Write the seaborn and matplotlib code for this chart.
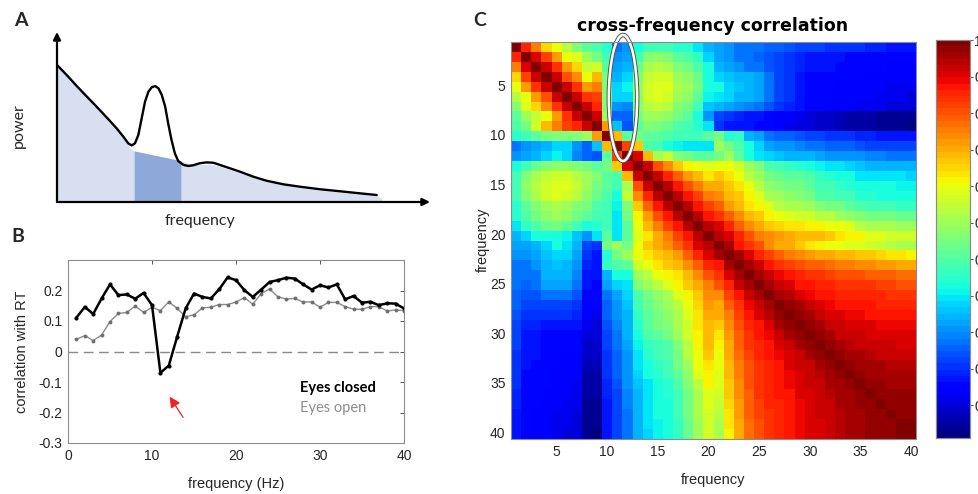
import numpy as np
import pandas as pd
import matplotlib
matplotlib.use("Agg")
import matplotlib.pyplot as plt
from matplotlib.patches import Ellipse
import seaborn as sns

# ---------------- panel A : schematic spectrum (axis units 0..1) ----------------
spec_x = [0.0, 0.026, 0.053, 0.080, 0.106, 0.133, 0.160, 0.178, 0.191, 0.200, 0.209,
          0.218, 0.227, 0.236, 0.245, 0.254, 0.263, 0.272, 0.281, 0.290, 0.298, 0.307,
          0.316, 0.325, 0.339, 0.352, 0.365, 0.383, 0.401, 0.419, 0.437, 0.464, 0.491,
          0.526, 0.562, 0.607, 0.651, 0.705, 0.759, 0.812, 0.857]
spec_pow = [0.806, 0.747, 0.682, 0.620, 0.561, 0.498, 0.433, 0.384, 0.345, 0.333, 0.345,
            0.394, 0.492, 0.590, 0.649, 0.675, 0.682, 0.669, 0.629, 0.561, 0.463, 0.365,
            0.286, 0.241, 0.218, 0.212, 0.216, 0.228, 0.233, 0.231, 0.218, 0.198, 0.178,
            0.149, 0.125, 0.104, 0.090, 0.075, 0.063, 0.051, 0.041]
bg_x = [0.0, 0.026, 0.053, 0.080, 0.106, 0.133, 0.160, 0.178, 0.196, 0.207, 0.332,
        0.357, 0.383, 0.410, 0.437, 0.491, 0.562, 0.651, 0.759, 0.857, 0.868, 0.874]
bg_pow = [0.806, 0.745, 0.680, 0.618, 0.558, 0.495, 0.430, 0.375, 0.318, 0.300, 0.243,
          0.222, 0.220, 0.223, 0.210, 0.170, 0.120, 0.084, 0.057, 0.036, 0.026, 0.0]
band_x = [0.207, 0.332]
band_pow = [0.300, 0.243]

# ---------------- panel B : correlation with RT ----------------
freq_hz = list(range(1, 41))
r_closed = [0.111, 0.146, 0.123, 0.174, 0.220, 0.185, 0.187, 0.173, 0.192, 0.152,
            -0.070, -0.046, 0.049, 0.141, 0.190, 0.179, 0.174, 0.204, 0.243, 0.234,
            0.201, 0.179, 0.203, 0.228, 0.234, 0.242, 0.239, 0.220, 0.203, 0.217,
            0.210, 0.220, 0.171, 0.182, 0.160, 0.163, 0.152, 0.158, 0.157, 0.141]
r_open = [0.040, 0.052, 0.036, 0.054, 0.098, 0.125, 0.128, 0.149, 0.128, 0.145,
          0.134, 0.163, 0.141, 0.114, 0.120, 0.143, 0.145, 0.154, 0.154, 0.162,
          0.177, 0.155, 0.190, 0.205, 0.179, 0.172, 0.174, 0.162, 0.163, 0.145,
          0.161, 0.161, 0.147, 0.139, 0.138, 0.147, 0.147, 0.133, 0.136, 0.134]

# ---------------- panel C : cross-frequency correlation (percent, lower triangle) ----------------
corr_lower = [
    [100],
    [86, 100],
    [76, 91, 100],
    [65, 82, 92, 100],
    [60, 72, 83, 92, 100],
    [53, 60, 72, 81, 92, 100],
    [47, 58, 65, 73, 84, 93, 100],
    [42, 50, 55, 60, 72, 84, 92, 100],
    [40, 45, 56, 68, 76, 82, 86, 92, 100],
    [35, 37, 42, 45, 46, 47, 46, 50, 72, 100],
    [17, 20, 22, 25, 28, 27, 20, 15, 26, 68, 100],
    [20, 22, 25, 27, 31, 28, 19, 15, 14, 42, 82, 100],
    [33, 38, 43, 46, 48, 48, 47, 44, 42, 44, 66, 90, 100],
    [37, 46, 51, 55, 57, 56, 54, 50, 46, 42, 40, 68, 92, 100],
    [38, 48, 53, 57, 58, 58, 55, 50, 45, 42, 37, 52, 80, 93, 100],
    [37, 46, 52, 56, 58, 57, 54, 48, 43, 40, 32, 55, 73, 86, 94, 100],
    [35, 42, 47, 50, 52, 50, 47, 44, 40, 38, 31, 47, 66, 78, 88, 94, 100],
    [34, 40, 45, 48, 50, 48, 45, 42, 38, 38, 30, 44, 62, 72, 81, 88, 94, 100],
    [30, 36, 40, 43, 45, 42, 38, 32, 34, 38, 29, 42, 60, 68, 75, 82, 88, 94, 100],
    [25, 28, 32, 33, 33, 31, 26, 20, 29, 42, 30, 42, 58, 64, 70, 75, 82, 88, 94, 100],
    [22, 23, 24, 28, 32, 30, 24, 12, 10, 45, 50, 45, 60, 66, 70, 74, 78, 84, 90, 94, 100],
    [20, 20, 22, 26, 27, 27, 22, 10, 8, 34, 44, 50, 60, 64, 66, 68, 72, 79, 85, 90, 95, 100],
    [18, 18, 20, 25, 26, 25, 20, 9, 8, 36, 40, 42, 56, 60, 64, 66, 68, 73, 79, 85, 87, 95, 100],
    [18, 17, 18, 24, 25, 24, 19, 8, 7, 24, 33, 33, 50, 54, 60, 62, 64, 68, 74, 80, 84, 91, 96, 100],
    [17, 16, 17, 22, 23, 22, 18, 8, 6, 22, 27, 30, 46, 50, 54, 58, 62, 66, 70, 76, 80, 86, 92, 96, 100],
    [16, 14, 14, 18, 18, 17, 14, 6, 5, 17, 22, 27, 40, 45, 48, 52, 58, 62, 66, 73, 74, 82, 88, 93, 96, 100],
    [15, 12, 12, 12, 12, 12, 11, 4, 4, 16, 21, 26, 38, 43, 46, 50, 54, 60, 65, 72, 71, 78, 84, 89, 93, 96, 100],
    [14, 10, 10, 10, 10, 10, 9, 3, 2, 15, 20, 25, 36, 42, 45, 48, 52, 59, 64, 71, 70, 76, 82, 87, 91, 94, 97, 100],
    [13, 9, 9, 8, 8, 8, 7, 2, 1, 14, 19, 24, 34, 41, 44, 46, 52, 56, 64, 69, 66, 74, 80, 85, 88, 91, 95, 97, 100],
    [12, 8, 8, 6, 6, 6, 6, 0, 0, 13, 18, 24, 33, 40, 42, 44, 50, 56, 62, 68, 64, 72, 79, 84, 87, 89, 92, 95, 97, 100],
    [12, 8, 7, 6, 5, 5, 5, -1, -1, 12, 17, 22, 31, 36, 38, 40, 46, 54, 61, 68, 62, 71, 78, 83, 86, 88, 90, 92, 95, 97, 100],
    [11, 7, 7, 6, 5, 4, 4, -2, -2, 11, 16, 21, 30, 34, 37, 39, 45, 54, 60, 66, 60, 70, 77, 82, 85, 87, 89, 91, 93, 95, 97, 100],
    [11, 7, 6, 5, 4, 4, 3, -3, -3, 10, 15, 20, 29, 33, 36, 38, 44, 50, 60, 63, 60, 69, 76, 81, 84, 86, 88, 90, 92, 93, 95, 97, 100],
    [10, 6, 6, 5, 4, 3, 3, -4, -4, 10, 15, 20, 28, 32, 35, 37, 42, 48, 58, 62, 58, 68, 75, 80, 84, 86, 87, 89, 91, 92, 94, 95, 97, 100],
    [10, 6, 5, 5, 3, 3, 2, -5, -5, 9, 14, 20, 26, 30, 33, 34, 39, 46, 53, 61, 58, 67, 74, 80, 83, 85, 87, 89, 90, 92, 93, 95, 96, 97, 100],
    [9, 6, 5, 4, 3, 3, 2, -5, -5, 9, 13, 19, 25, 30, 33, 34, 38, 45, 52, 59, 56, 66, 73, 79, 83, 85, 87, 88, 90, 91, 92, 94, 95, 96, 98, 100],
    [9, 5, 5, 3, 3, 2, 2, -6, -6, 8, 13, 19, 25, 30, 32, 33, 37, 45, 51, 58, 55, 65, 72, 78, 82, 85, 86, 88, 89, 91, 92, 93, 95, 96, 97, 98, 100],
    [8, 5, 4, 3, 2, 2, 1, -6, -7, 8, 12, 18, 24, 29, 32, 33, 37, 44, 51, 57, 54, 64, 72, 78, 82, 84, 86, 88, 89, 90, 92, 93, 94, 95, 96, 97, 98, 100],
    [8, 5, 4, 3, 2, 2, 1, -7, -7, 7, 12, 18, 24, 29, 31, 32, 36, 43, 50, 57, 52, 63, 71, 77, 81, 84, 86, 87, 89, 90, 91, 93, 94, 95, 96, 97, 98, 98, 100],
    [8, 5, 4, 3, 2, 1, 1, -7, -8, 7, 12, 18, 24, 28, 31, 32, 36, 43, 50, 57, 52, 62, 70, 77, 81, 84, 86, 87, 89, 90, 91, 93, 94, 95, 96, 97, 97, 98, 99, 100],
]
heat_ticks = [5, 10, 15, 20, 25, 30, 35, 40]
cbar_ticks = [0, 0.1, 0.2, 0.3, 0.4, 0.5, 0.6, 0.7, 0.8, 0.9, 1]
cbar_labels = ["0", "0.1", "0.2", "0.3", "0.4", "0.5", "0.6", "0.7", "0.8", "0.9", "1"]

# full symmetric matrix from the lower triangle
n = len(corr_lower)
corr = np.zeros((n, n))
for i, row in enumerate(corr_lower):
    corr[i, :len(row)] = row
    corr[:len(row), i] = row
corr = pd.DataFrame(corr / 100.0, index=range(1, n + 1), columns=range(1, n + 1))

sns.set_theme(style="white")
plt.rcParams["font.family"] = ["Liberation Sans", "DejaVu Sans"]

W, H = 979, 494
fig = plt.figure(figsize=(W / 100, H / 100), dpi=100)


def box(x0, y0, x1, y1):
    return [x0 / W, 1 - y1 / H, (x1 - x0) / W, (y1 - y0) / H]


def ftext(x, y, s, **kw):
    fig.text(x / W, 1 - y / H, s, **kw)


txt = "#262626"

# ---------------- panel A ----------------
axA = fig.add_axes(box(57, 32, 430, 202))
axA.set_xlim(0, 1)
axA.set_ylim(0, 1)
axA.axis("off")
axA.fill_between(bg_x, bg_pow, 0, color="#d7dff0", lw=0)
axA.fill_between(band_x, band_pow, 0, color="#8ea9d9", lw=0)
sns.lineplot(x=spec_x, y=spec_pow, ax=axA, color="black", lw=1.7, sort=False)
arr = dict(arrowstyle="-|>", color="black", lw=1.6, mutation_scale=11, shrinkA=0, shrinkB=0)
axA.annotate("", xy=(0, 1), xytext=(0, 0), xycoords="axes fraction", arrowprops=arr)
axA.annotate("", xy=(1, 0), xytext=(0, 0), xycoords="axes fraction", arrowprops=arr)
ftext(21, 21, "A", fontsize=14, fontweight="bold", family="Lato", ha="center", va="center")
ftext(19, 126, "power", fontsize=11.5, family="Lato", rotation=90, ha="center", va="center", color=txt)
ftext(200, 221, "frequency", fontsize=11.5, family="Lato", ha="center", va="center", color=txt)

# ---------------- panel B ----------------
axB = fig.add_axes(box(68, 260, 404, 443))
axB.axhline(0, color="#8a8a8a", lw=1.0, dashes=(7, 4))
sns.lineplot(x=freq_hz, y=r_open, ax=axB, color="#8c8c8c", lw=1.0, marker="o",
             markersize=2.8, markeredgewidth=0, markerfacecolor="#6f6f6f")
sns.lineplot(x=freq_hz, y=r_closed, ax=axB, color="black", lw=1.8, marker="o",
             markersize=3, markeredgewidth=0)
axB.set_xlim(0, 40)
axB.set_ylim(-0.3, 0.3)
axB.set_xticks([0, 10, 20, 30, 40])
axB.set_yticks([-0.3, -0.2, -0.1, 0, 0.1, 0.2])
axB.set_yticklabels(["-0.3", "-0.2", "-0.1", "0", "0.1", "0.2"])
axB.tick_params(direction="in", length=3, width=0.7, top=True, right=True,
                labelsize=10, colors="#555555", labelcolor=txt, pad=4)
for s in axB.spines.values():
    s.set_color("#8c8c8c")
    s.set_linewidth(0.8)
axB.set_xlabel("")
axB.set_ylabel("")
axB.annotate("", xy=(12.1, -0.148), xytext=(13.7, -0.216),
             arrowprops=dict(arrowstyle="-|>", color="#ee2222", lw=0.9, mutation_scale=16,
                             shrinkA=0, shrinkB=0))
ftext(300, 388, "Eyes closed", fontsize=10.5, family="Lato", fontweight="bold", ha="left", va="center", color="black")
ftext(300, 408, "Eyes open", fontsize=10.5, family="Lato", ha="left", va="center", color="#8c8c8c")
ftext(18, 236, "B", fontsize=14, fontweight="bold", family="Lato", ha="center", va="center")
ftext(236, 484, "frequency (Hz)", fontsize=10.5, ha="center", va="center", color=txt)
ftext(22, 352, "correlation with RT", fontsize=10.5, rotation=90, ha="center", va="center", color=txt)

# ---------------- panel C ----------------
axC = fig.add_axes(box(511, 42, 916, 439))
cax = fig.add_axes(box(936, 40, 970, 438))
sns.heatmap(corr, ax=axC, cbar_ax=cax, cmap=plt.get_cmap("jet", 64), vmin=-0.09, vmax=1.0)
axC.set_xticks([t - 0.5 for t in heat_ticks])
axC.set_xticklabels([str(t) for t in heat_ticks], rotation=0)
axC.set_yticks([t - 0.5 for t in heat_ticks])
axC.set_yticklabels([str(t) for t in heat_ticks], rotation=0)
axC.tick_params(direction="in", length=3, width=0.7, top=True, right=True, bottom=True, left=True,
                labelsize=10, colors="#555555", labelcolor=txt, pad=4)
for s in axC.spines.values():
    s.set_visible(True)
    s.set_color("#8c8c8c")
    s.set_linewidth(0.8)
axC.set_xlabel("")
axC.set_ylabel("")
axC.add_patch(Ellipse((11.06, 5.64), 2.8, 12.7, fill=False, ec="#555555", lw=3.2, clip_on=False))
axC.add_patch(Ellipse((11.06, 5.64), 2.8, 12.7, fill=False, ec="white", lw=1.8, clip_on=False))

cax.set_yticks(cbar_ticks)
cax.set_yticklabels(cbar_labels)
cax.tick_params(direction="out", length=2, width=0.7, labelsize=10, colors="#555555",
                labelcolor=txt, pad=1, right=True, left=False)
for s in cax.spines.values():
    s.set_visible(True)
    s.set_color("#8c8c8c")
    s.set_linewidth(0.8)

ftext(480, 20, "C", fontsize=14, fontweight="bold", family="Lato", ha="center", va="center")
ftext(713, 26, "cross-frequency correlation", fontsize=12.5, fontweight="bold",
      family="DejaVu Sans", ha="center", va="center", color="black")
ftext(713, 480, "frequency", fontsize=10.5, ha="center", va="center", color=txt)
ftext(483, 240, "frequency", fontsize=10.5, rotation=90, ha="center", va="center", color=txt)

fig.savefig("out.png", dpi=100)
